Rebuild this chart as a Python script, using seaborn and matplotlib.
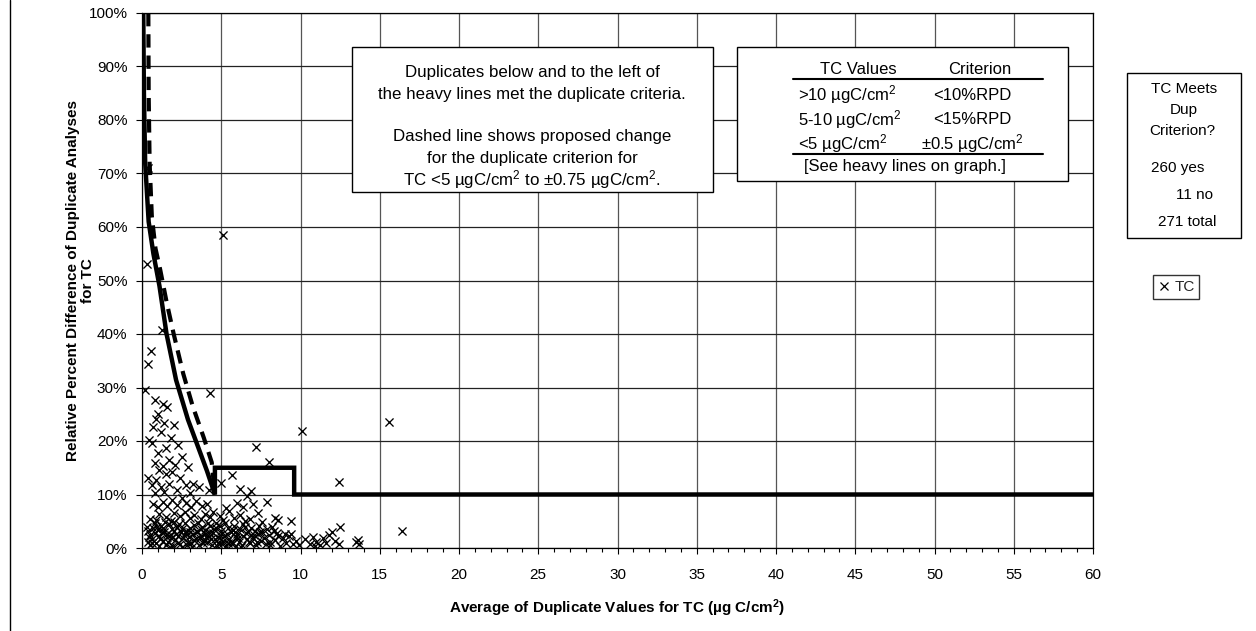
import matplotlib
matplotlib.use("Agg")
import matplotlib.pyplot as plt
import pandas as pd
import seaborn as sns
from matplotlib.ticker import MultipleLocator, PercentFormatter
from matplotlib.patches import Rectangle
from matplotlib.lines import Line2D

# Duplicate pairs: average TC (ug C/cm2) and relative percent difference (%)
tc_avg = [
    0.35, 0.30, 5.10, 0.55, 0.35, 1.25, 0.20, 4.30, 10.1, 15.6, 12.4, 7.2, 8.0, 16.4,
    0.8, 1.3, 1.6, 1.0, 0.9, 1.4, 0.7, 2.0, 1.2, 1.8, 0.45, 0.6, 2.3, 1.5, 1.0, 2.5, 1.7,
    0.8, 1.3, 2.1, 2.9,
    0.4, 1.1, 1.5, 1.9, 0.9, 2.4, 0.6, 1.2, 1.7, 2.8, 3.2, 3.6, 2.2, 1.4, 4.2, 5.0, 5.7,
    6.2, 6.9, 6.6, 3.0, 0.8,
    0.7, 1.0, 1.3, 1.6, 1.9, 2.2, 2.5, 2.8, 3.1, 3.4, 3.8, 4.1, 4.5, 4.9, 5.3, 5.5, 6.0,
    6.4, 7.0, 7.9, 7.6, 8.4, 8.6, 1.1, 1.5, 0.5, 2.0, 2.4, 2.7, 3.0, 3.3, 3.7, 4.0, 4.3,
    5.8, 6.2, 6.8, 7.3, 0.9, 1.8, 5.1, 6.5, 9.4,
    0.3, 0.4, 0.5, 0.6, 0.7, 0.8, 0.9, 0.5, 0.8, 0.35,
    1.0, 1.1, 1.2, 1.3, 1.4, 1.5, 1.6, 1.7, 1.8, 1.9, 1.05, 1.25, 1.45, 1.65, 1.85, 1.95,
    2.0, 2.1, 2.2, 2.3, 2.4, 2.5, 2.6, 2.7, 2.8, 2.9, 2.15, 2.35, 2.55, 2.75, 2.95,
    3.0, 3.1, 3.2, 3.3, 3.4, 3.5, 3.6, 3.7, 3.8, 3.9, 3.15, 3.45, 3.75, 3.95,
    4.0, 4.1, 4.2, 4.3, 4.4, 4.5, 4.6, 4.7, 4.8, 4.9, 4.25, 4.65, 4.85,
    5.0, 5.1, 5.2, 5.3, 5.4, 5.5, 5.6, 5.7, 5.8, 5.9, 5.25, 5.45, 5.75, 5.95,
    6.0, 6.1, 6.2, 6.3, 6.4, 6.5, 6.6, 6.7, 6.8, 6.9, 6.35, 6.85,
    7.0, 7.1, 7.2, 7.3, 7.4, 7.5, 7.6, 7.8, 7.9, 7.7,
    8.0, 8.1, 8.3, 8.4, 8.6, 8.7, 8.9, 8.2,
    9.0, 9.1, 9.3, 9.5, 9.4, 9.7, 9.9,
    10.3, 10.6, 10.8, 11.0, 11.2, 11.4, 11.6, 11.8, 12.0, 12.2, 12.5, 12.4, 13.5, 13.7,
    13.6, 10.9,
    0.45, 0.65, 0.95, 1.15, 1.35, 1.55, 1.75, 2.05, 2.25, 2.45, 2.65, 2.85, 3.05, 3.25,
    3.55, 3.65, 3.85, 4.05, 4.15, 4.35, 4.55, 4.75, 4.95, 5.05, 5.35, 5.65, 5.85, 6.05,
    6.25, 6.55, 6.75, 7.05, 7.25, 7.45, 8.05, 8.5,
]
tc_rpd = [
    71.0, 53.0, 58.5, 36.8, 34.4, 40.8, 29.5, 29.0, 21.8, 23.6, 12.4, 18.8, 16.1, 3.2,
    27.6, 27.0, 26.4, 25.0, 24.2, 23.4, 22.6, 23.0, 21.6, 20.6, 20.2, 19.6, 19.2, 18.6,
    17.8, 17.0, 16.4, 15.8, 15.4, 15.6, 15.2,
    13.0, 14.6, 13.8, 14.2, 12.8, 13.0, 11.8, 11.4, 12.0, 11.8, 12.0, 11.4, 10.8, 10.4,
    10.8, 12.1, 13.6, 11.0, 10.6, 9.8, 10.2, 10.2,
    8.2, 7.6, 8.6, 7.8, 9.0, 8.0, 9.4, 8.4, 7.6, 8.8, 7.8, 8.2, 6.8, 6.0, 7.4, 7.0, 8.4,
    7.6, 8.2, 8.6, 4.8, 5.7, 5.2, 6.4, 5.8, 5.4, 6.6, 6.0, 6.8, 5.6, 6.2, 5.4, 6.4, 5.8,
    5.6, 6.2, 5.4, 6.6, 5.2, 5.0, 5.2, 5.1, 5.0,
    4.0, 3.2, 2.4, 1.6, 3.8, 2.8, 0.9, 0.5, 4.6, 1.2,
    3.4, 2.2, 4.2, 1.4, 3.0, 0.6, 2.6, 4.4, 1.8, 3.6, 0.3, 2.9, 4.8, 1.1, 2.4, 0.4,
    3.2, 1.5, 4.0, 2.2, 0.8, 3.6, 1.9, 4.6, 2.8, 1.2, 2.7, 4.4, 0.2, 3.1, 2.0,
    3.8, 1.0, 2.6, 4.3, 1.7, 3.2, 0.6, 2.3, 4.0, 1.4, 0.2, 2.9, 3.5, 2.7,
    3.4, 1.1, 2.2, 4.2, 0.5, 2.8, 1.7, 3.7, 0.9, 2.5, 3.0, 4.6, 1.9,
    3.2, 1.3, 2.2, 0.4, 3.8, 1.7, 2.9, 0.8, 4.2, 2.0, 4.6, 1.0, 3.3, 0.3,
    2.7, 1.2, 3.5, 0.6, 2.2, 4.0, 1.6, 3.0, 0.9, 2.4, 4.5, 3.8,
    1.8, 3.2, 0.5, 2.6, 4.2, 1.3, 2.9, 0.8, 3.6, 1.9,
    2.4, 0.6, 3.1, 1.5, 2.2, 0.4, 1.8, 4.0,
    2.6, 1.0, 2.3, 0.7, 2.6, 1.4, 0.5,
    1.6, 0.8, 2.0, 1.2, 0.5, 1.8, 1.0, 2.4, 3.0, 1.4, 4.0, 0.8, 1.2, 0.8, 1.5, 0.3,
    2.0, 0.9, 3.9, 1.7, 3.7, 2.0, 0.2, 4.8, 1.0, 3.0, 2.4, 0.6, 3.0, 1.5,
    4.7, 1.9, 0.9, 2.0, 4.7, 1.6, 3.5, 0.3, 4.1, 0.8, 2.6, 1.2, 3.0, 1.9,
    0.2, 2.8, 1.2, 2.5, 1.1, 3.0, 1.2, 2.8,
]

# Current duplicate criterion (heavy solid line)
current_x = [0.08, 0.12, 0.20, 0.42, 0.72, 1.10, 1.55, 2.15, 2.90, 3.55, 4.10, 4.60,
             4.60, 9.60, 9.60, 60.0]
current_y = [100.0, 85.0, 72.0, 61.0, 55.0, 49.0, 40.0, 31.4, 24.0, 18.8, 14.4, 10.0,
             15.0, 15.0, 10.0, 10.0]
# Proposed criterion for TC < 5 (heavy dashed line)
proposed_x = [0.40, 0.42, 0.48, 0.62, 0.85, 1.15, 1.55, 2.00, 2.60, 3.20, 3.90, 4.40,
              4.60]
proposed_y = [100.0, 85.0, 72.0, 62.0, 56.0, 52.0, 46.0, 40.0, 32.6, 26.5, 20.6, 16.0,
              10.0]

x_ticks = list(range(0, 61, 5))
y_ticks = list(range(0, 101, 10))

note_lines = ["Duplicates below and to the left of",
              "the heavy lines met the duplicate criteria.",
              "Dashed line shows proposed change",
              "for the duplicate criterion for",
              r"TC <5 µgC/cm$^2$ to ±0.75 µgC/cm$^2$."]
table_header = ["TC Values", "Criterion"]
table_values = [r">10 µgC/cm$^2$", r"5-10 µgC/cm$^2$", r"<5 µgC/cm$^2$"]
table_criteria = ["<10%RPD", "<15%RPD", r"±0.5 µgC/cm$^2$"]
count_lines = ["TC Meets", "Dup", "Criterion?", "260 yes", "11 no", "271 total"]

sns.set_theme(style="ticks")
plt.rcParams["font.family"] = ["Liberation Sans", "DejaVu Sans"]
plt.rcParams["mathtext.fontset"] = "custom"
plt.rcParams["mathtext.rm"] = "Liberation Sans"
plt.rcParams["mathtext.it"] = "Liberation Sans:italic"
plt.rcParams["mathtext.bf"] = "Liberation Sans:bold"

W, H = 1256, 631
fig = plt.figure(figsize=(W / 100, H / 100), dpi=100)
fig.patch.set_facecolor("white")


def fx(px):
    return px / W


def fy(py):
    return 1 - py / H


ax = fig.add_axes([fx(142), fy(548), fx(1093) - fx(142), fy(13) - fy(548)])

points = pd.DataFrame({"avg": tc_avg, "rpd": tc_rpd})
sns.scatterplot(data=points, x="avg", y="rpd", marker="x", color="black", s=34,
                linewidth=0.95, legend=False, ax=ax, zorder=3)

sns.lineplot(x=current_x, y=current_y, sort=False, estimator=None, color="black",
             lw=3.2, ax=ax, zorder=4)
sns.lineplot(x=proposed_x, y=proposed_y, sort=False, estimator=None, color="black",
             lw=3.0, ax=ax, zorder=4)
ax.lines[-1].set_dashes([3.2, 1.9])
for ln in ax.lines:
    ln.set_solid_joinstyle("miter")

ax.set_xlim(0, 60)
ax.set_ylim(0, 100)
ax.set_xticks(x_ticks)
ax.set_yticks(y_ticks)
ax.xaxis.set_minor_locator(MultipleLocator(1))
ax.yaxis.set_major_formatter(PercentFormatter(100, decimals=0))
ax.grid(True, which="major", axis="x", color="#555555", lw=0.9)
ax.grid(True, which="major", axis="y", color="#222222", lw=0.9)
ax.set_axisbelow(True)
for sp in ax.spines.values():
    sp.set_color("black")
    sp.set_linewidth(0.9)
ax.tick_params(axis="both", which="major", direction="out", length=4.5, width=0.8,
               color="black", labelsize=11, labelcolor="black")
ax.tick_params(axis="x", which="major", pad=10)
ax.tick_params(axis="x", which="minor", direction="out", length=3, width=0.8,
               color="black")
ax.tick_params(axis="y", which="major", pad=6)

ax.set_xlabel(r"Average of Duplicate Values for TC (µg C/cm$^\mathbf{2}$)",
              fontsize=11, fontweight="bold", labelpad=11, color="black")
ax.set_ylabel("Relative Percent Difference of Duplicate Analyses\nfor TC",
              fontsize=11, fontweight="bold", color="black", linespacing=1.15)
ax.yaxis.set_label_coords(-0.049, 0.5)


def frame(x0, y0, x1, y1):
    fig.add_artist(Rectangle((fx(x0), fy(y1)), fx(x1) - fx(x0), fy(y0) - fy(y1),
                             transform=fig.transFigure, facecolor="white",
                             edgecolor="black", lw=1.0, zorder=5))


def label(x, y, s, size=12, ha="center"):
    fig.text(fx(x), fy(y), s, ha=ha, va="center", fontsize=size, color="black",
             zorder=6)


def rule(x0, x1, y):
    fig.add_artist(Line2D([fx(x0), fx(x1)], [fy(y), fy(y)], transform=fig.transFigure,
                          color="black", lw=1.5, zorder=6))


# explanatory note
frame(352, 47, 713, 192)
for yy, s in zip([72, 94, 136, 158, 180], note_lines):
    label(532, yy, s, size=12.2)

# criterion table
frame(737, 47, 1068, 181)
label(858, 69, table_header[0])
label(980, 69, table_header[1])
rule(793, 1043, 79)
for yy, v, c in zip([95, 120, 144], table_values, table_criteria):
    label(798, yy, v, ha="left")
    label(972, yy, c)
rule(793, 1043, 154)
label(905, 167, "[See heavy lines on graph.]")

# counts
frame(1127, 73, 1241, 238)
for yy, xx, s in zip([89, 110, 131, 168, 195, 222],
                     [1184, 1184, 1182, 1178, 1194, 1187], count_lines):
    label(xx, yy, s, size=11)

handle = Line2D([], [], marker="x", color="black", linestyle="None", markersize=5.5,
                markeredgewidth=0.9)
leg = fig.legend(handles=[handle], labels=["TC"], loc="center",
                 bbox_to_anchor=(fx(1176), fy(287)), frameon=True, fancybox=False,
                 edgecolor="black", fontsize=11, handlelength=0.8, handletextpad=0.3,
                 borderpad=0.3, borderaxespad=0)
leg.get_frame().set_linewidth(1.0)
leg.set_zorder(6)

# outer chart border on the left
fig.add_artist(Line2D([fx(10), fx(10)], [0, 1], transform=fig.transFigure,
                      color="black", lw=1.0))

fig.savefig("out.png", dpi=100, facecolor="white")
